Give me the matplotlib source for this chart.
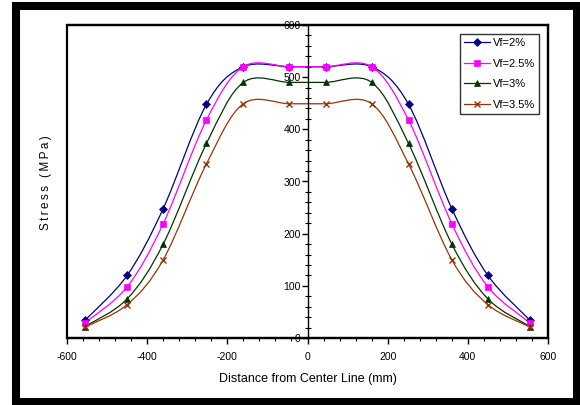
import numpy as np
import matplotlib
matplotlib.use("Agg")
import matplotlib.pyplot as plt
from matplotlib.path import Path
from matplotlib.patches import PathPatch, Rectangle
from matplotlib.lines import Line2D
from matplotlib.ticker import MultipleLocator

plt.rcParams["font.family"] = ["Liberation Sans", "DejaVu Sans"]
plt.rcParams["axes.unicode_minus"] = False

# distance from center line (mm)
dist = [-555, -450, -360, -252, -160, -45, 45, 160, 252, 360, 450, 555]

# stress (MPa) for each fibre volume fraction
vf_2 = [34, 120, 248, 448, 520, 520, 520, 520, 448, 248, 120, 34]
vf_25 = [29, 98, 219, 418, 520, 520, 520, 520, 418, 219, 98, 29]
vf_3 = [22, 75, 180, 373, 490, 490, 490, 490, 373, 180, 75, 22]
vf_35 = [21, 64, 150, 334, 449, 449, 449, 449, 334, 150, 64, 21]

labels = ["Vf=2%", "Vf=2.5%", "Vf=3%", "Vf=3.5%"]
series = [vf_2, vf_25, vf_3, vf_35]
colors = ["#000080", "#FF00FF", "#003300", "#993300"]
markers = ["D", "s", "^", "x"]
msizes = [4.5, 5, 5, 5]


def smooth_path(x, y):
    # excel-style smoothed line: cubic bezier with neighbour based control points
    pts = np.column_stack([x, y]).astype(float)
    n = len(pts)
    verts = [pts[0]]
    codes = [Path.MOVETO]
    for i in range(n - 1):
        p0 = pts[i - 1] if i > 0 else pts[i]
        p1 = pts[i]
        p2 = pts[i + 1]
        p3 = pts[i + 2] if i + 2 < n else pts[i + 1]
        c1 = p1 + (p2 - p0) / 6.0
        c2 = p2 - (p3 - p1) / 6.0
        verts += [c1, c2, p2]
        codes += [Path.CURVE4] * 3
    return Path(verts, codes)


fig = plt.figure(figsize=(5.8, 4.05), dpi=100)
ax = fig.add_axes([67 / 580, 1 - 338 / 405, 481 / 580, 313 / 405])

handles = []
for ys, lab, c, m, ms in zip(series, labels, colors, markers, msizes):
    ax.add_patch(PathPatch(smooth_path(dist, ys), fill=False, edgecolor=c, lw=0.9, zorder=2))
    ax.plot(dist, ys, linestyle="none", marker=m, color=c, markersize=ms,
            markeredgewidth=1.0 if m == "x" else 0.5, zorder=3)
    handles.append(Line2D([], [], color=c, lw=0.9, marker=m, markersize=ms,
                          markeredgewidth=1.0 if m == "x" else 0.5))

ax.set_xlim(-600, 600)
ax.set_ylim(0, 600)
ax.xaxis.set_major_locator(MultipleLocator(200))
ax.xaxis.set_minor_locator(MultipleLocator(40))
ax.yaxis.set_major_locator(MultipleLocator(100))
ax.yaxis.set_minor_locator(MultipleLocator(20))

ax.spines["left"].set_position(("data", 0))
ax.spines["left"].set_linewidth(1.0)
for s in ["top", "right", "bottom"]:
    ax.spines[s].set_linewidth(1.6)
ax.add_patch(Rectangle((0, 0), 1, 1, transform=ax.transAxes, fill=False,
                       edgecolor="black", lw=1.6, zorder=5, clip_on=False))

ax.tick_params(axis="x", which="major", direction="out", length=4, width=1, labelsize=7.5, pad=6)
ax.tick_params(axis="x", which="minor", direction="out", length=2.5, width=0.8)
ax.tick_params(axis="y", which="major", direction="out", length=4, width=1, labelsize=7.5, pad=1)
ax.tick_params(axis="y", which="minor", direction="inout", length=4, width=0.8)

ax.set_xlabel("Distance from Center Line (mm)", fontsize=9, labelpad=8)
ax.text(-0.0437, 0.497, "\u2009".join("Stress (MPa)"), transform=ax.transAxes, rotation=90,
        ha="center", va="center", fontsize=8.5)

leg = ax.legend(handles, labels, loc="upper right", bbox_to_anchor=(0.981, 0.971),
                fontsize=8, frameon=True, fancybox=False, edgecolor="black",
                handlelength=2.3, handletextpad=0.25, labelspacing=0.95,
                borderpad=0.35, borderaxespad=0)
leg.get_frame().set_linewidth(1.0)

# outer black frame of the picture
fig.patches.append(Rectangle((16 / 580, 1 - 402 / 405), 561 / 580, 396 / 405,
                             transform=fig.transFigure, fill=False,
                             edgecolor="black", lw=5.8))

fig.savefig("out.png", dpi=100)
